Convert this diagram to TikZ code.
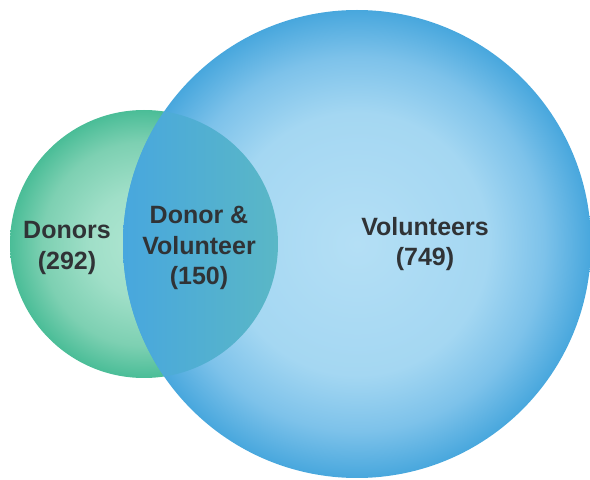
\documentclass[tikz,border=0pt]{standalone}
\usepackage{fontspec}
\setmainfont{Liberation Sans}
\usetikzlibrary{positioning}

\definecolor{donorin}{HTML}{B0E6D2}
\definecolor{donormid}{HTML}{A0DFC8}
\definecolor{donorrim}{HTML}{7DD0B2}
\definecolor{donorout}{HTML}{4ABD97}
\definecolor{volin}{HTML}{B4DFF5}
\definecolor{volmid}{HTML}{A4D7F2}
\definecolor{volrim}{HTML}{7DC2EA}
\definecolor{volout}{HTML}{48A7DD}
\definecolor{bothl}{HTML}{48A7DE}
\definecolor{bothr}{HTML}{5AB7C6}
\definecolor{lbltext}{HTML}{303336}

% outer colour is reached at 25bp, the edge of the filled path
\pgfdeclareradialshading{donorshade}{\pgfpoint{0bp}{0bp}}{%
  color(0bp)=(donorin); color(10bp)=(donormid); color(19bp)=(donorrim);
  color(25bp)=(donorout); color(50bp)=(donorout)}
\pgfdeclareradialshading{volshade}{\pgfpoint{0bp}{0bp}}{%
  color(0bp)=(volin); color(14bp)=(volmid); color(20bp)=(volrim);
  color(25bp)=(volout); color(50bp)=(volout)}

\tikzset{
  setlbl/.style={font=\fontsize{25}{30.5}\selectfont\bfseries, text=lbltext,
                 align=center, inner sep=0pt},
}

\begin{document}
\begin{tikzpicture}[x=1pt,y=1pt]
\useasboundingbox (0,0) rectangle (590,480);
% the two sets
\path[shading=donorshade] (144,236) circle[radius=134];
\path[shading=volshade] (357,236) circle[radius=234];
% overlap
\begin{scope}
  \clip (144,236) circle[radius=134];
  \clip (357,236) circle[radius=234];
  \path[left color=bothl, right color=bothr] (123,0) rectangle (278,480);
\end{scope}
% labels
\node[setlbl] (donors) at (67,232) {Donors\\(292)};
\node[setlbl] (both) at (199,232) {Donor \&\\Volunteer\\(150)};
\node[setlbl] (vols) at (425,236) {Volunteers\\(749)};
\end{tikzpicture}
\end{document}
